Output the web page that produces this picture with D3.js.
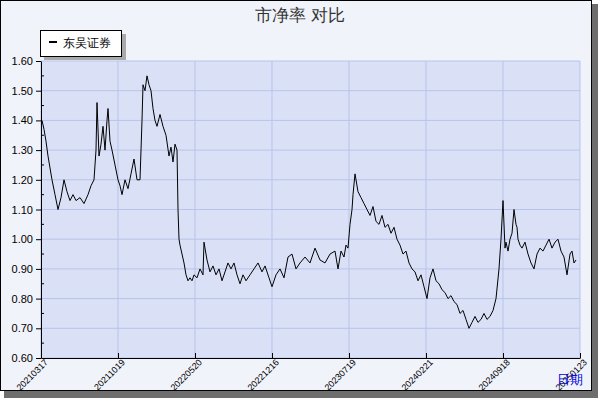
<!DOCTYPE html>
<html><head><meta charset="utf-8">
<script src="https://cdn.jsdelivr.net/npm/d3@7"></script>
<style>body{margin:0;background:#fff}</style>
</head><body>
<script>
// time position (41..580 units across the span) and P/B value
var t = [42,44,46,48,50,52,55,58,61,64,67,70,73,76,80,84,88,91,94,96,97,99,101,103,105,107,108,110,112,115,118,120,122,125,128,131,134,137,140,142,143,145,147,149,151,153,155,157,160,163,166,169,171,173,175,177,178,179,180,182,184,186,188,190,192,194,197,200,203,204,207,210,213,216,219,222,225,228,231,234,237,240,243,246,250,254,258,262,265,269,272,276,280,284,288,292,296,300,305,310,315,320,325,330,335,338,341,344,346,348,350,352,353,355,358,361,364,367,370,373,376,379,382,385,388,391,394,397,400,403,406,409,412,415,418,421,424,427,430,433,436,439,442,445,448,451,454,457,460,463,466,469,472,475,478,481,484,487,490,493,496,499,501,503,505,506,508,510,512,514,516,517,518,520,522,525,528,531,534,537,540,543,546,549,552,555,558,561,564,567,570,572,574,576,578,580];
var pb = [1.40,1.37,1.33,1.28,1.24,1.20,1.15,1.10,1.14,1.20,1.16,1.13,1.15,1.13,1.14,1.12,1.15,1.18,1.20,1.30,1.46,1.28,1.32,1.38,1.30,1.40,1.44,1.33,1.30,1.25,1.20,1.18,1.15,1.20,1.17,1.22,1.27,1.20,1.20,1.40,1.52,1.50,1.55,1.52,1.50,1.44,1.40,1.38,1.42,1.38,1.35,1.28,1.31,1.26,1.32,1.30,1.10,1.00,0.98,0.95,0.92,0.88,0.86,0.87,0.86,0.88,0.87,0.90,0.88,0.99,0.93,0.89,0.91,0.88,0.90,0.86,0.89,0.92,0.90,0.92,0.88,0.85,0.88,0.86,0.88,0.90,0.92,0.89,0.91,0.87,0.84,0.88,0.90,0.87,0.94,0.95,0.90,0.92,0.94,0.92,0.97,0.93,0.92,0.95,0.96,0.90,0.96,0.94,0.98,0.97,1.05,1.10,1.15,1.22,1.16,1.14,1.12,1.10,1.08,1.11,1.06,1.05,1.08,1.04,1.05,1.02,1.04,1.00,0.98,0.95,0.96,0.92,0.90,0.89,0.86,0.88,0.84,0.80,0.87,0.90,0.86,0.85,0.83,0.82,0.80,0.81,0.79,0.78,0.75,0.76,0.73,0.70,0.72,0.74,0.72,0.73,0.75,0.73,0.74,0.76,0.80,0.90,1.00,1.13,0.97,0.99,0.96,1.00,1.02,1.10,1.05,1.04,1.00,0.98,0.97,0.99,0.95,0.92,0.90,0.95,0.97,0.96,0.98,1.00,0.97,0.99,1.00,0.96,0.94,0.88,0.95,0.96,0.92,0.93];
var yTicks = [0.60,0.70,0.80,0.90,1.00,1.10,1.20,1.30,1.40,1.50,1.60];
var xLabels = ["20210317","20211019","20220520","20221216","20230719","20240221","20240918","20250123"];
var seriesName = "东吴证券";

var W = 600, H = 400, L = 41, R = 580, T = 61, B = 358;
var svg = d3.select("body").append("svg").attr("width", W).attr("height", H)
  .style("font-family", "DejaVu Sans, sans-serif");
svg.append("rect").attr("x", 4).attr("y", 4).attr("width", 594).attr("height", 394).attr("fill", "#6e6e6e");
svg.append("rect").attr("x", 0.5).attr("y", 0.5).attr("width", 591).attr("height", 390).attr("fill", "#f1f3fb").attr("stroke", "#000");

var x = d3.scaleLinear().domain([41, 580]).range([L, R]);
var y = d3.scaleLinear().domain([0.6, 1.6]).range([B, T]);
var tickPos = xLabels.map(function (d, i) { return 41 + i * 77; });

svg.append("rect").attr("x", L).attr("y", T).attr("width", R - L).attr("height", B - T).attr("fill", "#dae1f6");
svg.append("g").selectAll("line").data(yTicks).join("line")
  .attr("x1", L).attr("x2", R).attr("y1", function (d) { return y(d); }).attr("y2", function (d) { return y(d); })
  .attr("stroke", "#b7c3ea");
svg.append("g").selectAll("line").data(tickPos).join("line")
  .attr("y1", T).attr("y2", B).attr("x1", function (d) { return x(d); }).attr("x2", function (d) { return x(d); })
  .attr("stroke", "#b7c3ea");

var ya = svg.append("g").attr("transform", "translate(" + L + ",0)")
  .call(d3.axisLeft(y).tickValues(yTicks).tickFormat(d3.format(".2f")).tickSize(5).tickSizeOuter(0));
ya.selectAll("text").attr("font-size", 11).attr("fill", "#000");
var minor = d3.range(0.65, 1.6, 0.1);
svg.append("g").selectAll("line").data(minor).join("line")
  .attr("x1", L).attr("x2", L + 3).attr("y1", function (d) { return y(d); }).attr("y2", function (d) { return y(d); }).attr("stroke", "#000");

var xa = svg.append("g").attr("transform", "translate(0," + B + ")")
  .call(d3.axisBottom(x).tickValues(tickPos).tickFormat(function (d, i) { return xLabels[i]; }).tickSize(-5).tickSizeOuter(0));
xa.selectAll("text").attr("font-size", 9).attr("fill", "#000")
  .attr("text-anchor", "end").attr("dy", "0.3em")
  .attr("transform", "translate(3,1) rotate(-45)");
svg.selectAll(".domain").attr("stroke", "#000");

svg.append("path").datum(d3.zip(t, pb))
  .attr("d", d3.line().x(function (d) { return x(d[0]); }).y(function (d) { return y(d[1]); }))
  .attr("fill", "none").attr("stroke", "#000").attr("stroke-width", 1);

svg.append("text").attr("x", 300).attr("y", 21).attr("text-anchor", "middle")
  .attr("font-size", 17).attr("fill", "#333").text("市净率  对比");

svg.append("rect").attr("x", 44).attr("y", 34).attr("width", 82).attr("height", 26).attr("fill", "#aaa");
svg.append("rect").attr("x", 40.5).attr("y", 30.5).attr("width", 81).attr("height", 26).attr("fill", "#fff").attr("stroke", "#000");
svg.append("line").attr("x1", 49).attr("x2", 57).attr("y1", 42).attr("y2", 42).attr("stroke", "#000").attr("stroke-width", 2);
svg.append("text").attr("x", 63).attr("y", 47).attr("font-size", 12).text(seriesName);

svg.append("text").attr("x", 557).attr("y", 384).attr("font-size", 13).attr("fill", "#0000dd").text("日期");
</script>
</body></html>
